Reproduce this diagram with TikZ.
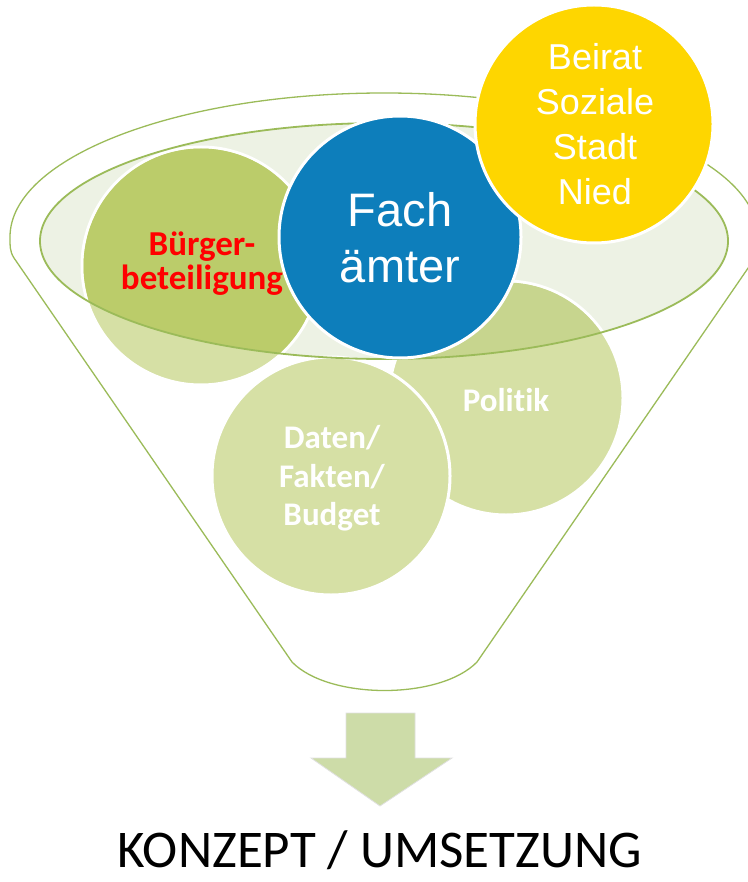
\documentclass[tikz,border=0pt]{standalone}
\usepackage{fontspec}
\newfontfamily\carlito[Ligatures=NoCommon]{Carlito}
\newfontfamily\arialf{Liberation Sans}
\definecolor{funnelgreen}{HTML}{9BBB59}
\definecolor{ellfill}{HTML}{EDF2E4}
\definecolor{lightgreen}{HTML}{D6E0A5}
\definecolor{buergerdark}{HTML}{BBCC6A}
\definecolor{politikdark}{HTML}{C7D58E}
\definecolor{fachblue}{HTML}{0D7EBB}
\definecolor{beiratyellow}{HTML}{FED600}
\definecolor{arrowfill}{HTML}{CDDCA8}
\begin{document}
\begin{tikzpicture}[x=1pt,y=-1pt,
  bubble/.style={circle, inner sep=0pt, draw=white, line width=3pt},
  lbl/.style={anchor=base, inner sep=0pt},
  boldlbl/.style={lbl, font=\carlito\bfseries\fontsize{33}{33}\selectfont, text=white},
  redlbl/.style={lbl, font=\carlito\bfseries\fontsize{35}{35}\selectfont, text=red},
  fachlbl/.style={lbl, font=\arialf\fontsize{47}{47}\selectfont, text=white},
  beiratlbl/.style={lbl, font=\arialf\fontsize{36}{36}\selectfont, text=white},
  outline/.style={draw=funnelgreen, line width=1.3pt}]
\fill[white] (0,0) rectangle (747,882);
\useasboundingbox (0,0) rectangle (747,882);
% funnel outline
\draw[outline] (14,258) .. controls (9.5,251) and (10,245) .. (10,237)
  arc[start angle=180, end angle=360, x radius=374, y radius=144]
  .. controls (759,245) and (759.5,251) .. (755,258)
  -- (477,662) .. controls (440,700) and (329,700) .. (292,662) -- cycle;
% inner ellipse fill
\fill[ellfill] (384,241) ellipse[x radius=344, y radius=118];
% back circles
\node[bubble, fill=lightgreen, minimum size=238pt] (buerger) at (201,266) {};
\node[bubble, fill=lightgreen, minimum size=234pt] (politik) at (506,398) {};
\begin{scope}
  \clip (384,241) ellipse[x radius=344, y radius=118];
  \fill[buergerdark] (buerger.center) circle[radius=117.5];
  \fill[politikdark] (politik.center) circle[radius=115.5];
\end{scope}
\node[bubble, fill=lightgreen, minimum size=238pt] (daten) at (331,476) {};
% inner ellipse outline
\draw[draw=funnelgreen, line width=1.8pt] (384,241) ellipse[x radius=344, y radius=118];
% front circles
\node[bubble, fill=fachblue, minimum size=242pt] (fach) at (400,237) {};
\node[bubble, fill=beiratyellow, minimum size=238pt] (beirat) at (594,124) {};
% labels
\node[redlbl] (b1) at (202,255) {Bürger-};
\node[redlbl] (b2) at (202,289) {beteiligung};
\node[fachlbl] (f1) at (400,227) {Fach};
\node[fachlbl] (f2) at (400,282) {ämter};
\node[beiratlbl] (r1) at (595,70) {Beirat};
\node[beiratlbl] (r2) at (595,115) {Soziale};
\node[beiratlbl] (r3) at (595,160) {Stadt};
\node[beiratlbl] (r4) at (595,205) {Nied};
\node[boldlbl] (p1) at (506,411) {Politik};
\node[boldlbl] (d1) at (332,448) {Daten/};
\node[boldlbl] (d2) at (332,487) {Fakten/};
\node[boldlbl] (d3) at (332,525) {Budget};
% block arrow
\draw[fill=arrowfill, draw=black!12, line width=0.8pt]
  (346,713) -- (415,713) -- (415,758) -- (452,758) -- (380,806)
  -- (311,758) -- (346,758) -- cycle;
\node[lbl, font=\carlito\fontsize{53}{53}\selectfont] (k) at (380,867) {KONZEPT / UMSETZUNG};
\end{tikzpicture}
\end{document}
